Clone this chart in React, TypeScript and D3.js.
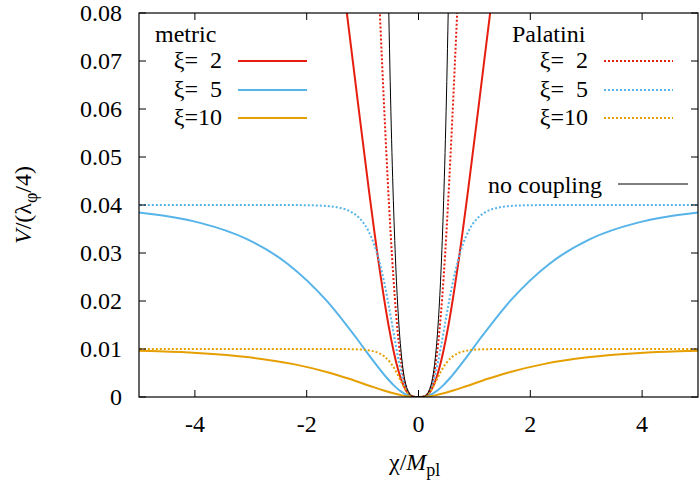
import * as d3 from "d3";

// field values chi/M_pl (right half, curves are symmetric) and potential V/(lambda/4)
const metricXi2: [number, number][] = [
  [0, 0], [0.0505, 0.000006], [0.1035, 0.000096], [0.161, 0.000464], [0.2242, 0.001372],
  [0.368, 0.005817], [0.5321, 0.014692], [0.7099, 0.027778], [0.8952, 0.043808],
  [1.0827, 0.061244], [1.2686, 0.078793], [1.3602, 0.087321],
];
const metricXi5: [number, number][] = [
  [0, 0], [0.0528, 0.000006], [0.1196, 0.000091], [0.2053, 0.000409], [0.3091, 0.001111],
  [0.4276, 0.002268], [0.5568, 0.003853], [0.8332, 0.007901], [1.1154, 0.012346],
  [1.6525, 0.020172], [2.3446, 0.027778], [3.0781, 0.032935], [3.907, 0.036281],
  [4.4414, 0.037558], [5.0412, 0.038482],
];
const metricXi10: [number, number][] = [
  [0, 0], [0.0602, 0.000006], [0.1597, 0.000083], [0.2979, 0.000337], [0.4689, 0.000816],
  [0.6559, 0.001479], [0.8511, 0.002244], [1.241, 0.003787], [1.6096, 0.005102],
  [2.256, 0.006897], [3.0262, 0.008264], [3.9641, 0.009167], [4.6516, 0.009518],
  [5.192, 0.009688],
];
const palatiniXi2: [number, number][] = [
  [0, 0], [0.05, 0.000006], [0.1, 0.000097], [0.15, 0.000477], [0.2, 0.001443],
  [0.25, 0.003323], [0.3, 0.006433], [0.35, 0.011018], [0.4, 0.017203], [0.45, 0.025019],
  [0.5, 0.03437], [0.55, 0.045023], [0.6, 0.05678], [0.65, 0.069255], [0.7, 0.08223],
];
const palatiniXi5: [number, number][] = [
  [0, 0], [0.05, 0.000006], [0.1, 0.000094], [0.15, 0.000438], [0.2, 0.00124],
  [0.25, 0.002648], [0.3, 0.004701], [0.35, 0.007329], [0.4, 0.010368], [0.45, 0.013643],
  [0.5, 0.01695], [0.6, 0.02313], [0.7, 0.028192], [0.8, 0.031987], [0.9, 0.034674],
  [1.0, 0.036508], [1.2, 0.038534], [1.4, 0.039391], [1.6, 0.039751], [1.8, 0.039898],
  [2.0, 0.039958], [2.5, 0.039998], [3.0, 0.04], [5.2, 0.04],
];
const palatiniXi10: [number, number][] = [
  [0, 0], [0.05, 0.000006], [0.1, 0.000088], [0.15, 0.000381], [0.2, 0.000981],
  [0.25, 0.001882], [0.3, 0.002984], [0.35, 0.004157], [0.4, 0.005281], [0.45, 0.006281],
  [0.5, 0.007127], [0.6, 0.008354], [0.7, 0.009088], [0.8, 0.009504], [0.9, 0.009734],
  [1.0, 0.009858], [1.2, 0.00996], [1.4, 0.009989], [1.6, 0.009997], [2.0, 0.01], [5.2, 0.01],
];
const noCoupling: [number, number][] = [
  [0, 0], [0.1, 0.0001], [0.2, 0.0016], [0.3, 0.0081], [0.35, 0.015], [0.4, 0.0256],
  [0.45, 0.041], [0.5, 0.0625], [0.55, 0.0915],
];

const xTicks = [-4, -2, 0, 2, 4];
const yTicks = [0, 0.01, 0.02, 0.03, 0.04, 0.05, 0.06, 0.07, 0.08];
const yTickLabels = ["0", "0.01", "0.02", "0.03", "0.04", "0.05", "0.06", "0.07", "0.08"];
const xiValues = ["2", "5", "10"];

const RED = "#e51e10";
const BLUE = "#56b4e9";
const ORANGE = "#e69f00";
const FONT = "Liberation Serif, DejaVu Serif, serif";
const FS = 24;

const series = [
  { pts: metricXi2, color: RED, dotted: false },
  { pts: metricXi5, color: BLUE, dotted: false },
  { pts: metricXi10, color: ORANGE, dotted: false },
  { pts: palatiniXi2, color: RED, dotted: true },
  { pts: palatiniXi5, color: BLUE, dotted: true },
  { pts: palatiniXi10, color: ORANGE, dotted: true },
];

// mirror the right half onto negative chi
const mirror = (pts: [number, number][]) =>
  pts.slice(1).map(([c, v]) => [-c, v] as [number, number]).reverse().concat(pts);

const W = 700;
const H = 486;
const left = 139, right = 698, top = 13, bottom = 397;

// "ξ=" then the value, right-aligned so ξ= 2 and ξ=10 line up
function XiLabel({ x, y, value }: { x: number; y: number; value: string }) {
  return (
    <g>
      <text x={x - FS} y={y} textAnchor="end">ξ=</text>
      <text x={x} y={y} textAnchor="end">{value}</text>
    </g>
  );
}

export default function App() {
  const x = d3.scaleLinear().domain([-5, 5]).range([left, right]);
  const y = d3.scaleLinear().domain([0, 0.08]).range([bottom, top]);
  const line = d3
    .line<[number, number]>()
    .x((d) => x(d[0]))
    .y((d) => y(d[1]))
    .curve(d3.curveMonotoneX);

  const legendRows = [61, 90, 118];

  return (
    <svg
      width={W}
      height={H}
      style={{ position: "absolute", left: 0, top: 0, background: "#fff", fontFamily: FONT }}
    >
      <defs>
        <clipPath id="plot-area">
          <rect x={left} y={top} width={right - left} height={bottom - top} />
        </clipPath>
      </defs>

      <g clipPath="url(#plot-area)" fill="none">
        {series.map((s, i) => (
          <path
            key={i}
            d={line(mirror(s.pts)) ?? ""}
            stroke={s.color}
            strokeWidth={2}
            strokeDasharray={s.dotted ? "2,2" : undefined}
          />
        ))}
        <path d={line(mirror(noCoupling)) ?? ""} stroke="#000" strokeWidth={1} />
      </g>

      {/* frame and mirrored ticks */}
      <rect x={left} y={top} width={right - left} height={bottom - top} fill="none" stroke="#000" strokeWidth={1.2} />
      {xTicks.map((t) => (
        <g key={t} stroke="#000" strokeWidth={1}>
          <line x1={x(t)} x2={x(t)} y1={bottom} y2={bottom - 7} />
          <line x1={x(t)} x2={x(t)} y1={top} y2={top + 7} />
        </g>
      ))}
      {yTicks.map((t) => (
        <g key={t} stroke="#000" strokeWidth={1}>
          <line x1={left} x2={left + 7} y1={y(t)} y2={y(t)} />
          <line x1={right} x2={right - 7} y1={y(t)} y2={y(t)} />
        </g>
      ))}

      <g fontSize={FS} fill="#000">
        {xTicks.map((t) => (
          <text key={t} x={x(t)} y={432} textAnchor="middle">
            {t < 0 ? `-${Math.abs(t)}` : `${t}`}
          </text>
        ))}
        {yTicks.map((t, i) => (
          <text key={t} x={122} y={y(t) + 8} textAnchor="end">
            {yTickLabels[i]}
          </text>
        ))}
      </g>

      {/* axis titles */}
      <g fontSize={FS}>
        <text x={389} y={470}>
          χ/<tspan fontStyle="italic">M</tspan>
          <tspan fontSize={18} dy={6}>pl</tspan>
        </text>
        <text transform="translate(31,205) rotate(-90)" textAnchor="middle">
          <tspan fontStyle="italic">V</tspan>/(λ<tspan fontSize={18} dy={6}>φ</tspan>
          <tspan dy={-6}>/4)</tspan>
        </text>
      </g>

      {/* legend */}
      <g fontSize={FS}>
        <text x={155} y={42}>metric</text>
        <text x={512} y={42}>Palatini</text>
        {legendRows.map((ly, i) => (
          <g key={i}>
            <XiLabel x={222} y={ly + 7} value={xiValues[i]} />
            <line x1={238} x2={307} y1={ly} y2={ly} stroke={series[i].color} strokeWidth={2} />
            <XiLabel x={588} y={ly + 7} value={xiValues[i]} />
            <line
              x1={604}
              x2={673}
              y1={ly}
              y2={ly}
              stroke={series[i + 3].color}
              strokeWidth={2}
              strokeDasharray="2,2"
            />
          </g>
        ))}
        <text x={602} y={193} textAnchor="end">no coupling</text>
        <line x1={618} x2={688} y1={184} y2={184} stroke="#000" strokeWidth={1} />
      </g>
    </svg>
  );
}
